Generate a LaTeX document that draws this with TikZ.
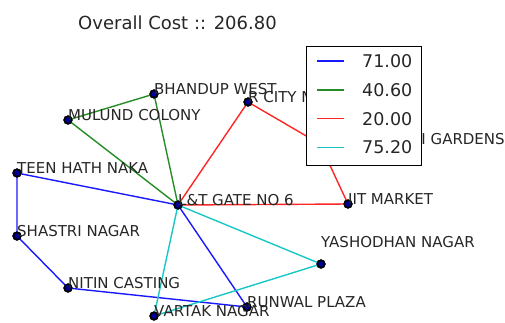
\documentclass[tikz,border=0pt]{standalone}
\usepackage{fontspec}
\setmainfont{DejaVu Sans}
\definecolor{routeb}{rgb}{0.1,0.1,1}
\definecolor{routeg}{rgb}{0.15,0.55,0.15}
\definecolor{router}{rgb}{1,0.15,0.15}
\definecolor{routec}{rgb}{0.1,0.78,0.78}
\tikzset{
	stop/.style={circle,draw=black,line width=1.6pt,fill=blue!60!black,inner sep=0pt,minimum size=7.5pt},
	stoplabel/.style={anchor=base west,inner sep=0pt,font=\fontsize{15}{17}\selectfont,text=black!85},
	leg/.style={anchor=base west,inner sep=0pt,font=\fontsize{17.5}{19}\selectfont,text=black!85},
	route/.style={line width=1.4pt}
}
\begin{document}
\begin{tikzpicture}[x=1pt,y=-1pt]
		\useasboundingbox (0,0) rectangle (505,322);
		\node [stop](lt) at (178,205) {};
		\node [stop](teen) at (17,173) {};
		\node [stop](shastri) at (17,236) {};
		\node [stop](nitin) at (68,288) {};
		\node [stop](runwal) at (247,307) {};
		\node [stop](mulund) at (68,120) {};
		\node [stop](bhandup) at (154,94) {};
		\node [stop](rcity) at (248,102) {};
		\node [stop](hira) at (320,144) {};
		\node [stop](iit) at (348,204) {};
		\node [stop](yash) at (321,264) {};
		\node [stop](vartak) at (154,316) {};
		\draw [route,routeb](lt.center)--(teen.center)--(shastri.center)--(nitin.center)--(runwal.center)--(lt.center);
		\draw [route,routeg](lt.center)--(mulund.center)--(bhandup.center)--(lt.center);
		\draw [route,router](lt.center)--(rcity.center)--(hira.center)--(iit.center)--(lt.center);
		\draw [route,routec](lt.center)--(yash.center)--(vartak.center)--(lt.center);
		\foreach \n in {lt,teen,shastri,nitin,runwal,mulund,bhandup,rcity,hira,iit,yash,vartak}
			\node [stop] at (\n) {};
		\node [stoplabel](ltlabel) at (lt.center) {L\&T GATE NO 6};
		\node [stoplabel](teenlabel) at (teen.center) {TEEN HATH NAKA};
		\node [stoplabel](shastrilabel) at (shastri.center) {SHASTRI NAGAR};
		\node [stoplabel](nitinlabel) at (nitin.center) {NITIN CASTING};
		\node [stoplabel](runwallabel) at (runwal.center) {RUNWAL PLAZA};
		\node [stoplabel](mulundlabel) at (mulund.center) {MULUND COLONY};
		\node [stoplabel](bhanduplabel) at (bhandup.center) {BHANDUP WEST};
		\node [stoplabel](rcitylabel) at (rcity.center) {R CITY MALL};
		\node [stoplabel](hiralabel) at (hira.center) {HIRANANDANI GARDENS};
		\node [stoplabel](iitlabel) at (iit.center) {IIT MARKET};
		\node [stoplabel](yashlabel) at (321,247) {YASHODHAN NAGAR};
		\node [stoplabel](vartaklabel) at (vartak.center) {VARTAK NAGAR};
		\node [anchor=base,inner sep=0pt,font=\fontsize{18}{20}\selectfont,text=black!85](title) at (177.5,29) {Overall Cost :: 206.80};
		\draw [fill=white,line width=1pt](306,46) rectangle (421,165);
		\draw [route,routeb](317,61)--(344,61);
		\draw [route,routeg](317,90)--(344,90);
		\draw [route,router](317,118.7)--(344,118.7);
		\draw [route,routec](317,147.3)--(344,147.3);
		\node [leg](legb) at (362,67.6) {71.00};
		\node [leg](legg) at (362,96.3) {40.60};
		\node [leg](legr) at (362,125) {20.00};
		\node [leg](legc) at (362,153.7) {75.20};
		
		\end{tikzpicture}
\end{document}
